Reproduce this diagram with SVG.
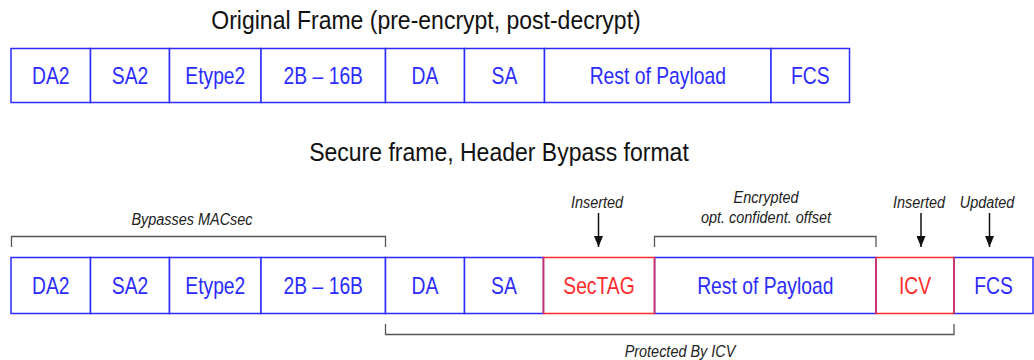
<svg xmlns="http://www.w3.org/2000/svg" width="1034" height="360" viewBox="0 0 1034 360">
<defs>
<style>
.bx{fill:#fff;stroke:#2b2bff;stroke-width:1.5}
.rbx{fill:#fff;stroke:#ff2b2b;stroke-width:1.5}
.side{fill:none;stroke:#c03278;stroke-width:1.5}
.t{font-family:"Liberation Sans",Arial,sans-serif;font-size:23px;fill:#2b2bff;text-anchor:middle}
.rt{fill:#ff2b2b}
.title{font-family:"Liberation Sans",Arial,sans-serif;font-size:25px;fill:#111;text-anchor:middle}
.lbl{font-family:"Liberation Sans",Arial,sans-serif;font-size:17px;font-style:italic;fill:#222;text-anchor:middle}
.br{fill:none;stroke:#555;stroke-width:1.3}
.ar{stroke:#111;stroke-width:1.5;marker-end:url(#ah)}
</style>
<marker id="ah" viewBox="0 0 10 10" refX="10" refY="5" markerWidth="11" markerHeight="9" markerUnits="userSpaceOnUse" orient="auto" preserveAspectRatio="none">
<path d="M0,0 L10,5 L0,10 z" fill="#111"/>
</marker>
</defs>
<rect width="1034" height="360" fill="#fff"/>
<text class="title" transform="translate(426,28.5) scale(0.92,1)">Original Frame (pre-encrypt, post-decrypt)</text>
<g id="top-DA2"><rect class="bx" x="11" y="48.5" width="79.5" height="54"/><text class="t" transform="translate(50.8,83.7) scale(0.84,1)">DA2</text></g>
<g id="top-SA2"><rect class="bx" x="90.5" y="48.5" width="79" height="54"/><text class="t" transform="translate(130,83.7) scale(0.84,1)">SA2</text></g>
<g id="top-Etype2"><rect class="bx" x="169.5" y="48.5" width="91.5" height="54"/><text class="t" transform="translate(215.3,83.7) scale(0.84,1)">Etype2</text></g>
<g id="top-2B16B"><rect class="bx" x="261" y="48.5" width="124.5" height="54"/><text class="t" transform="translate(323.3,83.7) scale(0.84,1)">2B – 16B</text></g>
<g id="top-DA"><rect class="bx" x="385.5" y="48.5" width="79" height="54"/><text class="t" transform="translate(425,83.7) scale(0.84,1)">DA</text></g>
<g id="top-SA"><rect class="bx" x="464.5" y="48.5" width="80" height="54"/><text class="t" transform="translate(504.5,83.7) scale(0.84,1)">SA</text></g>
<g id="top-Payload"><rect class="bx" x="544.5" y="48.5" width="226.5" height="54"/><text class="t" transform="translate(657.8,83.7) scale(0.84,1)">Rest of Payload</text></g>
<g id="top-FCS"><rect class="bx" x="771" y="48.5" width="78.5" height="54"/><text class="t" transform="translate(810.3,83.7) scale(0.84,1)">FCS</text></g>

<text class="title" transform="translate(499,161) scale(0.92,1)">Secure frame, Header Bypass format</text>
<g id="bot-DA2"><rect class="bx" x="11" y="257.5" width="79.5" height="56"/><text class="t" transform="translate(50.8,293.7) scale(0.84,1)">DA2</text></g>
<g id="bot-SA2"><rect class="bx" x="90.5" y="257.5" width="79" height="56"/><text class="t" transform="translate(130,293.7) scale(0.84,1)">SA2</text></g>
<g id="bot-Etype2"><rect class="bx" x="169.5" y="257.5" width="91.5" height="56"/><text class="t" transform="translate(215.3,293.7) scale(0.84,1)">Etype2</text></g>
<g id="bot-2B16B"><rect class="bx" x="261" y="257.5" width="124.5" height="56"/><text class="t" transform="translate(323.3,293.7) scale(0.84,1)">2B – 16B</text></g>
<g id="bot-DA"><rect class="bx" x="385.5" y="257.5" width="79" height="56"/><text class="t" transform="translate(425,293.7) scale(0.84,1)">DA</text></g>
<g id="bot-SA"><rect class="bx" x="464.5" y="257.5" width="79" height="56"/><text class="t" transform="translate(504,293.7) scale(0.84,1)">SA</text></g>
<g id="bot-Payload"><rect class="bx" x="654.5" y="257.5" width="221.5" height="56"/><text class="t" transform="translate(765.3,293.7) scale(0.84,1)">Rest of Payload</text></g>
<g id="bot-FCS"><rect class="bx" x="954" y="257.5" width="79" height="56"/><text class="t" transform="translate(993.5,293.7) scale(0.84,1)">FCS</text></g>
<g id="bot-SecTAG"><rect class="rbx" x="543.5" y="257.5" width="111" height="56"/><path class="side" d="M543.5,257.5 V313.5 M654.5,257.5 V313.5"/><text class="t rt" transform="translate(599,293.7) scale(0.84,1)">SecTAG</text></g>
<g id="bot-ICV"><rect class="rbx" x="876" y="257.5" width="78" height="56"/><path class="side" d="M876,257.5 V313.5 M954,257.5 V313.5"/><text class="t rt" transform="translate(915,293.7) scale(0.84,1)">ICV</text></g>

<g id="connectors">
<path class="br" d="M11.5,247 V236.5 H385.5 V247"/>
<path class="br" d="M654.5,247 V236.5 H876 V247"/>
<path class="br" d="M385.5,324 V334.5 H954 V324"/>
<line class="ar" x1="598.5" y1="213" x2="598.5" y2="247"/>
<line class="ar" x1="921" y1="213" x2="921" y2="247"/>
<line class="ar" x1="989.5" y1="213" x2="989.5" y2="247"/>
</g>
<text class="lbl" transform="translate(192,225) scale(0.85,1)">Bypasses MACsec</text>
<text class="lbl" transform="translate(597,207.5) scale(0.85,1)">Inserted</text>
<text class="lbl" transform="translate(766,202.5) scale(0.85,1)">Encrypted</text>
<text class="lbl" transform="translate(766,222.5) scale(0.85,1)">opt. confident. offset</text>
<text class="lbl" transform="translate(919,207.5) scale(0.85,1)">Inserted</text>
<text class="lbl" transform="translate(987,207.5) scale(0.85,1)">Updated</text>
<text class="lbl" transform="translate(680,356.5) scale(0.85,1)">Protected By ICV</text>
</svg>
